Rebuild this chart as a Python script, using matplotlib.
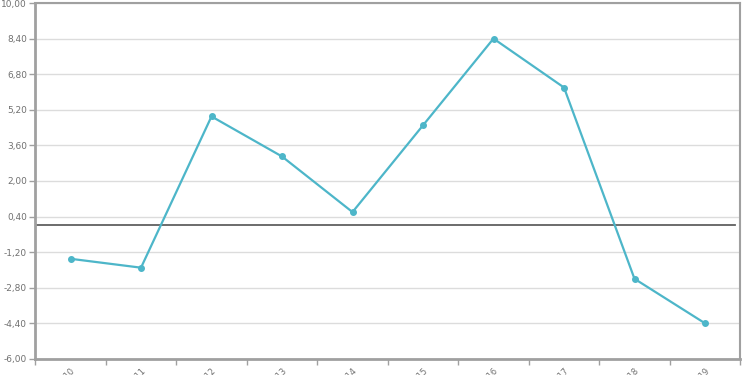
import numpy as np
import matplotlib
matplotlib.use("Agg")
import matplotlib.pyplot as plt
from matplotlib.ticker import FixedLocator, FuncFormatter

# values
categories = ["2010", "2011", "2012", "2013", "2014", "2015", "2016", "2017", "2018", "2019"]
values = [-1.5, -1.9, 4.9, 3.1, 0.6, 4.5, 8.4, 6.2, -2.4, -4.4]
y_ticks = [-6.0, -4.4, -2.8, -1.2, 0.4, 2.0, 3.6, 5.2, 6.8, 8.4, 10.0]

line_color = "#4db6c9"
frame_color = "#a0a0a0"
text_color = "#707070"

fig = plt.figure(figsize=(7.5, 3.75), dpi=100)
ax = fig.add_axes([0.047, 0.043, 0.94, 0.949])

x = np.arange(len(categories))
ax.plot(x, values, color=line_color, lw=1.6, marker="o", ms=4, zorder=3)
ax.axhline(0, color="#606060", lw=1.3, xmin=0.003, xmax=0.993, zorder=2)

ax.set_xlim(-0.5, len(categories) - 0.5)
ax.set_ylim(y_ticks[0], y_ticks[-1])

ax.set_yticks(y_ticks)
ax.yaxis.set_major_formatter(FuncFormatter(lambda v, p: f"{v:.2f}".replace(".", ",")))
ax.grid(axis="y", color="#dcdcdc", lw=1)
ax.set_axisbelow(True)

# ticks on category boundaries, labels at centres
ax.xaxis.set_major_locator(FixedLocator(np.arange(-0.5, len(categories), 1.0)))
ax.set_xticklabels([])
ax.xaxis.set_minor_locator(FixedLocator(x))
ax.set_xticklabels(categories, minor=True, rotation=45, ha="right", rotation_mode="anchor")
ax.tick_params(axis="x", which="minor", length=0, pad=5, labelsize=6, labelcolor=text_color)
ax.tick_params(axis="x", which="major", length=4, color=frame_color, width=1)
ax.tick_params(axis="y", length=4, color=frame_color, width=1, labelsize=6.5,
               labelcolor=text_color, pad=2)

for s in ax.spines.values():
    s.set_color(frame_color)
    s.set_linewidth(1.5)
ax.spines["left"].set_linewidth(2)
ax.spines["bottom"].set_linewidth(2)

fig.savefig("out.png", dpi=100)
